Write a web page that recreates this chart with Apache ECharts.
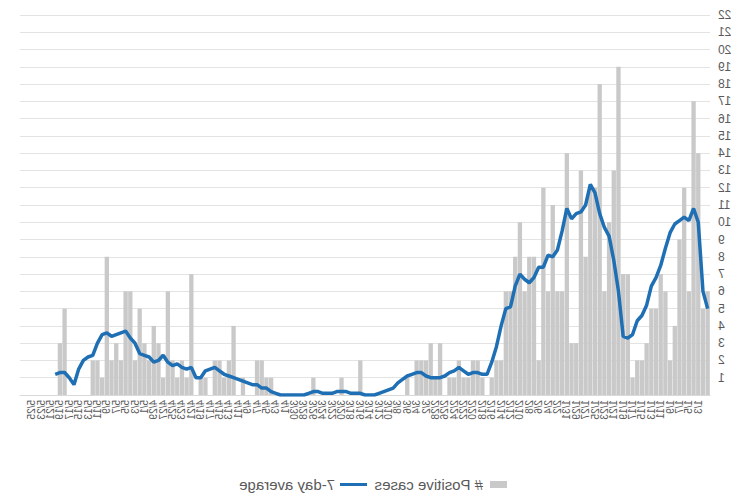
<!DOCTYPE html>
<html>
<head>
<meta charset="utf-8">
<script src="https://cdn.jsdelivr.net/npm/echarts@6/dist/echarts.min.js"></script>
<style>
html,body{margin:0;padding:0;background:#fff;}
#main{width:750px;height:500px;transform:scaleX(-1);}
</style>
</head>
<body>
<div id="main"></div>
<script>
var categories = [
'1/1','1/2','1/3','1/4','1/5','1/6','1/7','1/8','1/9','1/10','1/11','1/12','1/13','1/14','1/15','1/16','1/17','1/18','1/19','1/20','1/21','1/22','1/23','1/24','1/25','1/26','1/27','1/28','1/29','1/30','1/31',
'2/1','2/2','2/3','2/4','2/5','2/6','2/7','2/8','2/9','2/10','2/11','2/12','2/13','2/14','2/15','2/16','2/17','2/18','2/19','2/20','2/21','2/22','2/23','2/24','2/25','2/26','2/27','2/28',
'3/1','3/2','3/3','3/4','3/5','3/6','3/7','3/8','3/9','3/10','3/11','3/12','3/13','3/14','3/15','3/16','3/17','3/18','3/19','3/20','3/21','3/22','3/23','3/24','3/25','3/26','3/27','3/28','3/29','3/30','3/31',
'4/1','4/2','4/3','4/4','4/5','4/6','4/7','4/8','4/9','4/10','4/11','4/12','4/13','4/14','4/15','4/16','4/17','4/18','4/19','4/20','4/21','4/22','4/23','4/24','4/25','4/26','4/27','4/28','4/29','4/30',
'5/1','5/2','5/3','5/4','5/5','5/6','5/7','5/8','5/9','5/10','5/11','5/12','5/13','5/14','5/15','5/16','5/17','5/18','5/19','5/20','5/21','5/22','5/23','5/24','5/25','5/26','5/27'
];

var positiveCases = [
6,5,14,17,6,12,9,4,2,6,7,5,5,3,2,2,1,7,7,19,13,10,6,18,12,12,8,13,3,3,
14,6,6,11,6,12,2,8,8,6,10,8,6,6,2,2,1,0,1,2,2,1,1,2,1,1,0,3,1,3,
2,2,2,0,1,0,0,0,0,0,0,0,0,0,2,0,0,0,1,0,0,0,0,0,1,0,0,0,0,0,
0,0,0,1,1,2,2,0,0,1,0,4,2,1,2,2,0,1,1,0,7,1,2,1,2,6,1,3,4,2,
3,5,2,6,6,2,3,2,8,1,2,2,0,0,0,0,0,5,3,0,
null,null,null,null,null,null,null
];

var sevenDayAverage = [
5,6,10,10.8,10.1,10.3,10.1,9.9,9.4,8.5,7.5,6.8,6.3,5.2,4.6,4.3,3.5,3.3,3.4,6,
7.8,9.2,9.7,10.5,11.7,12.2,11,10.6,10.5,10.2,10.8,9.5,8.4,8,8.1,7.4,7.4,6.8,6.5,6.7,
7,6.3,5.1,5,4,2.8,1.9,1.2,1.2,1.3,1.3,1.2,1.4,1.6,1.4,1.3,1.1,1.0,1.0,1.0,
1.1,1.3,1.3,1.2,1.1,0.9,0.7,0.4,0.3,0.2,0.1,0,0,0,0.1,0.1,0.1,0.2,0.2,0.2,
0.1,0.1,0.1,0.2,0.2,0.1,0,0,0,0,0,0,0.1,0.2,0.4,0.4,0.6,0.6,0.7,0.8,
0.9,1.0,1.1,1.2,1.4,1.6,1.5,1.4,1.0,1.0,1.6,1.5,1.6,1.8,1.7,1.9,2.3,2.0,1.9,2.2,
2.3,2.4,3.0,3.3,3.7,3.6,3.5,3.4,3.6,3.5,3.0,2.3,2.2,2.0,1.5,0.6,1.0,1.3,1.3,1.2,
null,null,null,null,null,null,null
];

var yTicks = [1,2,3,4,5,6,7,8,9,10,11,12,13,14,15,16,17,18,19,20,21,22];

var chart = echarts.init(document.getElementById('main'), null, {renderer: 'svg'});
var textColor = '#595959';
var fontFam = '"Liberation Sans", Arial, sans-serif';
var barColor = '#c9c9c9';
var lineColor = '#1f6fb4';

chart.setOption({
  animation: false,
  backgroundColor: '#ffffff',
  grid: {left: 40, right: 20, top: 15, bottom: 105, containLabel: false},
  legend: [
    {
      top: 472,
      left: 238,
      itemGap: 0,
      itemWidth: 17,
      itemHeight: 7,
      textStyle: {color: textColor, fontSize: 15, fontFamily: fontFam, padding: [0, 0, 0, 2]},
      data: [{name: '# Positive cases', icon: 'rect'}]
    },
    {
      top: 472,
      left: 378,
      itemGap: 0,
      itemWidth: 27,
      itemHeight: 3,
      textStyle: {color: textColor, fontSize: 15, fontFamily: fontFam, padding: [0, 0, 0, 0]},
      data: [{name: '7-day average', icon: 'rect', itemStyle: {color: lineColor}}]
    }
  ],
  xAxis: {
    type: 'category',
    data: categories,
    boundaryGap: true,
    axisTick: {show: false},
    axisLine: {show: true, lineStyle: {color: '#d9d9d9', width: 1}},
    axisLabel: {
      interval: 1,
      rotate: -90,
      fontSize: 10,
      color: textColor,
      fontFamily: fontFam,
      margin: 5
    },
    splitLine: {show: false}
  },
  yAxis: {
    type: 'value',
    min: 0,
    max: 22,
    interval: 1,
    axisLine: {show: false},
    axisTick: {show: false},
    axisLabel: {
      color: textColor,
      fontSize: 12,
      fontFamily: fontFam,
      margin: 8,
      formatter: function (v) { return yTicks.indexOf(v) >= 0 ? String(v) : ''; }
    },
    splitLine: {show: true, lineStyle: {color: '#e3e3e3', width: 1}}
  },
  series: [
    {
      name: '# Positive cases',
      type: 'bar',
      data: positiveCases,
      barCategoryGap: '8%',
      itemStyle: {color: barColor},
      z: 2
    },
    {
      name: '7-day average',
      type: 'line',
      data: sevenDayAverage,
      symbol: 'none',
      showSymbol: false,
      connectNulls: false,
      lineStyle: {color: lineColor, width: 3.5},
      itemStyle: {color: lineColor},
      z: 3
    }
  ]
});
</script>
</body>
</html>
